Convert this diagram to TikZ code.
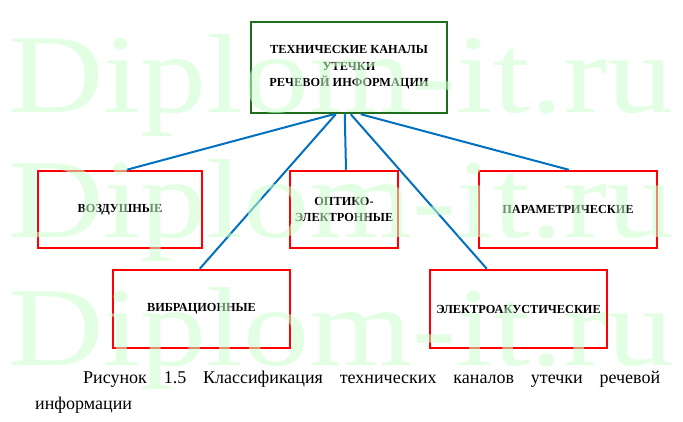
\documentclass[tikz,border=0pt]{standalone}
\usepackage{fontspec}
\usepackage{graphicx}
\setmainfont{Liberation Serif}
\definecolor{boxgreen}{RGB}{30,110,30}
\definecolor{boxred}{RGB}{255,0,0}
\definecolor{linkblue}{RGB}{0,112,192}
\definecolor{wmgreen}{RGB}{204,255,204}
\tikzset{
  rootbox/.style={draw=boxgreen, line width=2.5pt, inner sep=2pt, align=center,
    font=\bfseries\fontsize{12.3}{16.5}\selectfont},
  leafbox/.style={draw=boxred, line width=2.5pt, inner sep=2pt, align=center,
    font=\bfseries\fontsize{12.3}{15.5}\selectfont},
  link/.style={draw=linkblue, line width=2pt},
  wmark/.style={text=wmgreen, opacity=0.55, text opacity=0.55, inner sep=0, anchor=base west},
  caption/.style={inner sep=0, anchor=base west, font=\fontsize{18}{27}\selectfont}
}
\begin{document}
\begin{tikzpicture}[x=1pt,y=-1pt]
\useasboundingbox[fill=white] (0,0) rectangle (683,422);
% boxes
\node[rootbox, minimum width=196pt, minimum height=91pt] (root) at (349,67.5)
  {ТЕХНИЧЕСКИЕ КАНАЛЫ\\УТЕЧКИ\\РЕЧЕВОЙ ИНФОРМАЦИИ};
\node[leafbox, minimum width=164pt, minimum height=77pt] (vozd) at (120,209.5) {ВОЗДУШНЫЕ};
\node[leafbox, minimum width=108pt, minimum height=77pt] (opt) at (344,209.5) {ОПТИКО-\\ЭЛЕКТРОННЫЕ};
\node[leafbox, minimum width=178pt, minimum height=77pt] (param) at (568,209.5) {ПАРАМЕТРИЧЕСКИЕ};
\node[leafbox, minimum width=177pt, minimum height=78pt] (vibr) at (201.5,309) {ВИБРАЦИОННЫЕ};
\node[leafbox, minimum width=177pt, minimum height=78pt] (elak) at (518.5,309) {ЭЛЕКТРОАКУСТИЧЕСКИЕ};
% connectors
\draw[link] ([xshift=84pt]root.south west) -- ([xshift=90pt]vozd.north west);
\draw[link] ([xshift=86pt]root.south west) -- ([xshift=88pt]vibr.north west);
\draw[link] ([xshift=95pt]root.south west) -- ([xshift=2pt]opt.north);
\draw[link] ([xshift=101pt]root.south west) -- ([xshift=58pt]elak.north west);
\draw[link] ([xshift=111pt]root.south west) -- ([xshift=91pt]param.north west);
% caption
\node[caption] (cap1) at (83,383)
  {\makebox[577pt][s]{Рисунок 1.5 Классификация технических каналов утечки речевой}};
\node[caption] (cap2) at (35,409) {информации};
% watermark
\node[wmark] (wm1) at (8,113) {\resizebox{665pt}{78pt}{Diplom-it.ru}};
\node[wmark] (wm2) at (8,238) {\resizebox{665pt}{78pt}{Diplom-it.ru}};
\node[wmark] (wm3) at (8,365) {\resizebox{665pt}{78pt}{Diplom-it.ru}};
\end{tikzpicture}
\end{document}
